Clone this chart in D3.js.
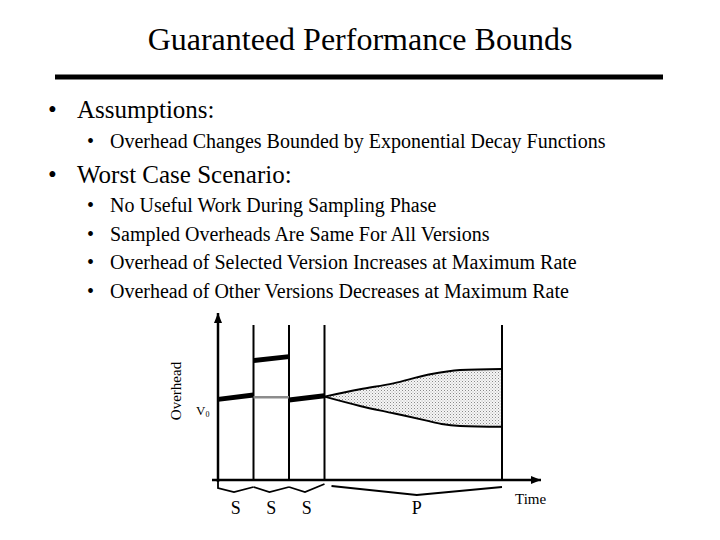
<!DOCTYPE html>
<html><head><meta charset="utf-8">
<script src="https://cdn.jsdelivr.net/npm/d3@7/dist/d3.min.js"></script>
<style>
html,body{margin:0;padding:0;background:#fff;}
svg{display:block;font-family:"Liberation Serif","Times New Roman",serif;}
</style></head>
<body>
<svg id="c" width="720" height="540"></svg>
<script>
// ---- data ----
const title = "Guaranteed Performance Bounds";
const bullets = [
  {level:1, text:"Assumptions:"},
  {level:2, text:"Overhead Changes Bounded by Exponential Decay Functions"},
  {level:1, text:"Worst Case Scenario:"},
  {level:2, text:"No Useful Work During Sampling Phase"},
  {level:2, text:"Sampled Overheads Are Same For All Versions"},
  {level:2, text:"Overhead of Selected Version Increases at Maximum Rate"},
  {level:2, text:"Overhead of Other Versions Decreases at Maximum Rate"}
];
const bulletBaselines = [118, 148, 183, 212, 241, 269, 298];
// phase boundaries in time units
const phaseBounds = [1, 2, 3, 8];
const samplePhases = [[0,1],[1,2],[2,3]];
const productionPhase = [3,8];
const phaseLabels = ["S","S","S","P"];
const labelTimes = [0.5, 1.5, 2.5, 5.6];
// sampled overhead segments (time, overhead)
const sampleSegments = [
  {x0:0, y0:5.04, x1:1, y1:5.31, kind:"thick"},
  {x0:1, y0:7.46, x1:2, y1:7.71, kind:"thick"},
  {x0:1, y0:5.17, x1:2, y1:5.17, kind:"gray"},
  {x0:2, y0:5.00, x1:3, y1:5.27, kind:"thick"}
];
// production phase bounds
const upperT = [3, 4, 4.94, 5.88, 6.82, 8];
const upperV = [5.21, 5.67, 6.04, 6.56, 6.88, 6.94];
const lowerT = [3, 4, 4.94, 5.88, 6.3, 6.82, 8];
const lowerV = [5.21, 4.63, 4.17, 3.71, 3.5, 3.38, 3.33];
const xLabel = "Time", yLabel = "Overhead";

// ---- drawing ----
const svg = d3.select("#c");
svg.append("text").attr("x",360).attr("y",50).attr("text-anchor","middle")
  .attr("font-size",32).text(title);
svg.append("line").attr("x1",55).attr("x2",663).attr("y1",77).attr("y2",77)
  .attr("stroke","#000").attr("stroke-width",5);

bullets.forEach((b,i)=>{
  const yy = bulletBaselines[i];
  const fs = b.level===1 ? 25 : 20;
  const bx = b.level===1 ? 48 : 87;
  const tx = b.level===1 ? 77 : 110;
  svg.append("text").attr("x",bx).attr("y",yy).attr("font-size",fs).text("\u2022");
  svg.append("text").attr("x",tx).attr("y",yy).attr("font-size",fs).text(b.text);
});

const x = d3.scaleLinear().domain([0,9]).range([218,537.5]);
const y = d3.scaleLinear().domain([0,10]).range([480,320]);

const defs = svg.append("defs");
const pat = defs.append("pattern").attr("id","dots").attr("patternUnits","userSpaceOnUse")
  .attr("width",3).attr("height",3);
pat.append("rect").attr("width",3).attr("height",3).attr("fill","#f6f6f6");
pat.append("rect").attr("x",0).attr("y",0).attr("width",1).attr("height",1).attr("fill","#8a8a8a");
pat.append("rect").attr("x",1.5).attr("y",1.5).attr("width",1).attr("height",1).attr("fill","#b0b0b0");

defs.append("marker").attr("id","arr").attr("viewBox","0 0 10 10").attr("refX",10).attr("refY",5)
  .attr("markerWidth",10).attr("markerHeight",10).attr("markerUnits","userSpaceOnUse")
  .attr("orient","auto").append("path").attr("d","M0,1 L10,5 L0,9 Z").attr("fill","#000");

// shaded area between bounds
const upperPts = upperT.map((t,i)=>[t,upperV[i]]);
const lowerPts = lowerT.map((t,i)=>[t,lowerV[i]]);
const lineGen = d3.line().x(d=>x(d[0])).y(d=>y(d[1])).curve(d3.curveMonotoneX);
const lowerRev = lowerPts.slice().reverse();
svg.append("path").attr("d", lineGen(upperPts) + "L" + x(lowerRev[0][0]) + "," + y(lowerRev[0][1]) +
   lineGen(lowerRev).replace(/^M[^CL]*/,"") + "Z")
  .attr("fill","url(#dots)").attr("stroke","none");
svg.append("path").attr("d",lineGen(upperPts)).attr("fill","none").attr("stroke","#000").attr("stroke-width",2);
svg.append("path").attr("d",lineGen(lowerPts)).attr("fill","none").attr("stroke","#000").attr("stroke-width",2);

// phase boundary lines
svg.selectAll("line.pb").data(phaseBounds).enter().append("line")
  .attr("x1",d=>x(d)).attr("x2",d=>x(d)).attr("y1",325).attr("y2",y(0))
  .attr("stroke","#000").attr("stroke-width",2);

// sample segments
svg.selectAll("line.seg").data(sampleSegments).enter().append("line")
  .attr("x1",d=>x(d.x0)).attr("x2",d=>x(d.x1)).attr("y1",d=>y(d.y0)).attr("y2",d=>y(d.y1))
  .attr("stroke",d=>d.kind==="gray"?"#8c8c8c":"#000")
  .attr("stroke-width",d=>d.kind==="gray"?2.5:5);

// axes
svg.append("line").attr("x1",x(0)).attr("x2",x(0)).attr("y1",482).attr("y2",313)
  .attr("stroke","#000").attr("stroke-width",2.5).attr("marker-end","url(#arr)");
svg.append("line").attr("x1",212).attr("x2",541).attr("y1",y(0)).attr("y2",y(0))
  .attr("stroke","#000").attr("stroke-width",2.5).attr("marker-end","url(#arr)");

// braces
samplePhases.forEach((p,i)=>{
  const startY = i===0 ? y(0) : 487;
  const pts = [[x(p[0]), startY]];
  if(i===0) pts.push([x(p[0]),488]);
  pts.push([x(p[0]+0.45),492],[x(p[1]), i===2?484:487]);
  svg.append("path").attr("d",d3.line()(pts)).attr("fill","none").attr("stroke","#000").attr("stroke-width",1.8);
});
{
  const pts = [[x(productionPhase[0])+7,486],[x(labelTimes[3]),495],[x(productionPhase[1]),487]];
  svg.append("path").attr("d",d3.line()(pts)).attr("fill","none").attr("stroke","#000").attr("stroke-width",1.8);
}
phaseLabels.forEach((l,i)=>{
  svg.append("text").attr("x",x(labelTimes[i])).attr("y",514).attr("text-anchor","middle")
    .attr("font-size",18).text(l);
});
svg.append("text").attr("x",515).attr("y",504).attr("font-size",15).text(xLabel);
svg.append("text").attr("transform","translate(181,391) rotate(-90)").attr("text-anchor","middle")
  .attr("font-size",15).text(yLabel);
const v = svg.append("text").attr("x",196).attr("y",415).attr("font-size",13);
v.append("tspan").text("V");
v.append("tspan").attr("font-size",8).attr("dy",2).text("0");
</script>
</body></html>
